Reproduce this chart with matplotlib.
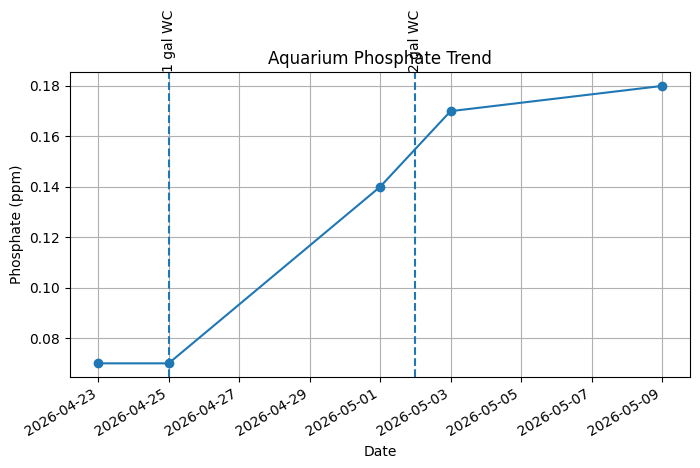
import pandas as pd
from matplotlib import pyplot as plt

dates = pd.to_datetime(["2026-04-23", "2026-04-25", "2026-05-01", "2026-05-03", "2026-05-09"])
phosphate = [0.07, 0.07, 0.14, 0.17, 0.18]
wc_dates = pd.to_datetime(["2026-04-25", "2026-05-02"])
wc_labels = ["1 gal WC", "2 gal WC"]

fig, ax = plt.subplots(figsize=(7, 4.68), dpi=100)
ax.plot(dates, phosphate, marker="o")
top = ax.get_ylim()[1]
for d, label in zip(wc_dates, wc_labels):
    ax.axvline(d, linestyle="--")
    ax.text(d, top, label, rotation=90, va="bottom", ha="center")
ax.set_title("Aquarium Phosphate Trend")
ax.set_xlabel("Date")
ax.set_ylabel("Phosphate (ppm)")
ax.grid(True)
fig.autofmt_xdate()
fig.subplots_adjust(left=0.1, right=0.986, top=0.846, bottom=0.194)
fig.savefig("out.png")
